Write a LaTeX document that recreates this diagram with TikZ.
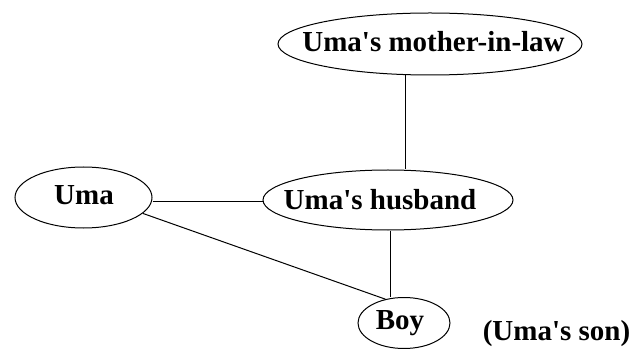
\documentclass[tikz,border=0pt]{standalone}
\usepackage{fontspec}
\setmainfont{Liberation Serif}
\usetikzlibrary{shapes.geometric}
\newcommand{\apo}{\textquotesingle}
\begin{document}
\begin{tikzpicture}[x=1pt,y=1pt,
  ent/.style={ellipse, draw=black, line width=1pt, inner sep=0pt},
  lbl/.style={anchor=base, inner sep=0pt, font=\fontsize{29}{30}\selectfont\bfseries},
  link/.style={draw=black, line width=1pt}]
\useasboundingbox[fill=white] (0,0) rectangle (636,348);
% entities
\node[ent, minimum width=304pt, minimum height=62pt] (mil) at (430,304) {};
\node[ent, minimum width=137pt, minimum height=61pt] (uma) at (83.5,150.5) {};
\node[ent, minimum width=250pt, minimum height=60pt] (hus) at (388,148) {};
\node[ent, minimum width=92pt, minimum height=51pt] (boy) at (404,25) {};
% texts
\node[lbl] (milt) at (433.5,296) {Uma\apo s mother-in-law};
\node[lbl] (umat) at (84,143) {Uma};
\node[lbl] (hust) at (380,138) {Uma\apo s husband};
\node[lbl] (boyt) at (400,19) {Boy};
\node[lbl] (sont) at (556.5,8) {(Uma\apo s son)};
% connectors
\path[link] ([xshift=-25pt]mil.south) -- ([xshift=17pt]hus.north);
\path[link] ([yshift=-4.5pt]uma.east) -- ([yshift=-2pt]hus.west);
\path[link] ([xshift=2pt]hus.south) -- ([xshift=-14pt]boy.north);
\path[link] (uma.-15) -- (boy.128);
\end{tikzpicture}
\end{document}
